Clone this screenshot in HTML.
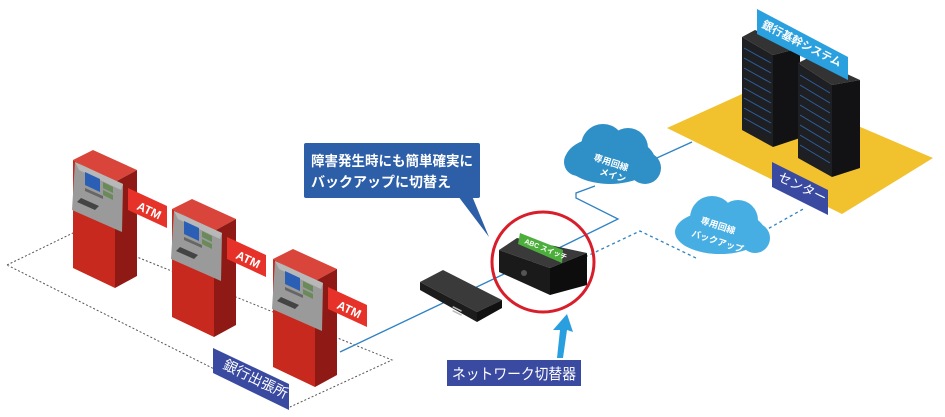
<!DOCTYPE html>
<html><head><meta charset="utf-8"><style>
html,body{margin:0;padding:0;background:#fff;}
svg{display:block;font-family:"Liberation Sans","Noto Sans CJK JP",sans-serif;}
</style></head><body>
<svg width="945" height="417" viewBox="0 0 945 417" xmlns="http://www.w3.org/2000/svg">
<defs>
<g id="atm">
  <polygon points="0,0 20,-10 64,10 42,22" fill="#d9453a"/>
  <polygon points="0,0 42,22 42,128 0,108" fill="#c8291f"/>
  <polygon points="42,22 64,10 64,116 42,128" fill="#8f1a15"/>
  <polygon points="2,2 50,24 49,72 -1,50" fill="#9a9a9a"/>
  <polygon points="2,2 50,24 48,30 6,10" fill="#b8b8b8"/>
  <polygon points="12,12 27,19 27,32 12,25" fill="#2b5fb5"/>
  <polygon points="30,22 40,27 40,33 30,28" fill="#6a8a5a"/>
  <polygon points="30,30 40,35 40,40 30,35" fill="#6a8a5a"/>
  <polygon points="8,38 26,46 22,50 4,42" fill="#444"/>
  <polygon points="12,28 30,36 30,39 12,31" fill="#666"/>
  <polygon points="55,28 94,46 94,68 55,50" fill="#e63228"/>
  <text x="0" y="0" transform="translate(63,49) rotate(25)" fill="#fff" font-size="12" font-weight="bold">ATM</text>
</g>
</defs>

<polyline points="7,265 75,232 392,360 290,407 7,265" fill="none" stroke="#555" stroke-width="1" stroke-dasharray="2,2"/>

<polygon points="667,128 762,85 933,158 842,214" fill="#f2c12e"/>

<g fill="none" stroke="#2f82c4" stroke-width="1.3">
  <polyline points="340,352 565,245"/>
  <polyline points="565,245 618,219 576,198 576,193 595,186"/>
  <polyline points="648,162 692,142"/>
</g>
<g fill="none" stroke="#2f82c4" stroke-width="1.3" stroke-dasharray="3,3">
  <polyline points="585,257 640,231 698,259"/>
  <polyline points="748,240 805,208"/>
</g>

<use href="#atm" transform="translate(73,160)"/>
<use href="#atm" transform="translate(172,209)"/>
<use href="#atm" transform="translate(273,259)"/>

<polygon points="213,348 289,384 289,410 213,373" fill="#3a4aa0"/>
<text transform="translate(222,368) rotate(26)" fill="#fff" font-size="14">銀行出張所</text>

<polygon points="420,282 443,270 502,300 477,312" fill="#3a3a3a"/>
<polygon points="420,282 477,312 477,322 420,290" fill="#1c1c1c"/>
<polygon points="477,312 502,300 502,308 477,322" fill="#111"/>
<g fill="#bbb"><rect x="453" y="306" width="10" height="1.5" transform="rotate(27 453 306)"/><rect x="453" y="310" width="10" height="1.5" transform="rotate(27 453 310)"/></g>

<polygon points="499,250 517,238 587,253 550,268" fill="#3a3a3a"/>
<polygon points="499,250 550,268 550,295 499,272" fill="#1a1a1a"/>
<polygon points="550,268 587,253 587,285 550,295" fill="#0d0d0d"/>
<circle cx="524" cy="273" r="3" fill="#555"/>
<polygon points="520,233 563,250 562,263 518,244" fill="#4caf3c"/>
<text transform="translate(524,243) rotate(22)" fill="#fff" font-size="7" font-weight="bold">ABC スイッチ</text>

<ellipse cx="543" cy="262" rx="51" ry="50" fill="none" stroke="#d81e2a" stroke-width="3"/>

<polygon points="458,196 472,196 489,237" fill="#2d5ea8"/>
<rect x="304" y="143" width="176" height="55" rx="2" fill="#2d5ea8"/>
<text x="311" y="166" fill="#fff" font-size="14" font-weight="bold" textLength="162" lengthAdjust="spacingAndGlyphs">障害発生時にも簡単確実に</text>
<text x="311" y="187" fill="#fff" font-size="14" font-weight="bold">バックアップに切替え</text>

<polygon points="557,358 563,358 567,330 573,332 567,314 553,330 560,330" fill="#2a9fe0"/>

<rect x="447" y="360" width="134" height="26" fill="#3a4aa0"/>
<text x="452" y="379" fill="#fff" font-size="15" textLength="124" lengthAdjust="spacingAndGlyphs">ネットワーク切替器</text>

<g fill="#2f8fc7">
  <ellipse cx="610" cy="160" rx="45" ry="24"/>
  <circle cx="603" cy="146" r="22"/>
  <circle cx="628" cy="148" r="20"/>
  <circle cx="645" cy="168" r="16"/>
  <circle cx="578" cy="162" r="14"/>
</g>
<text transform="translate(593,160) rotate(18)" fill="#fff" font-size="9" font-weight="bold">専用回線</text>
<text transform="translate(599,174) rotate(18)" fill="#fff" font-size="9" font-weight="bold">メイン</text>

<g fill="#47aee3">
  <ellipse cx="720" cy="232" rx="45" ry="22"/>
  <circle cx="712" cy="218" r="22"/>
  <circle cx="738" cy="220" r="20"/>
  <circle cx="755" cy="238" r="15"/>
  <circle cx="690" cy="232" r="13"/>
</g>
<text transform="translate(700,223) rotate(18)" fill="#fff" font-size="9" font-weight="bold">専用回線</text>
<text transform="translate(691,236) rotate(18)" fill="#fff" font-size="9" font-weight="bold">バックアップ</text>

<polygon points="742,37 755,30 800,48 773,55" fill="#333"/>
<polygon points="742,37 773,55 773,147 742,130" fill="#1e1f22"/>
<polygon points="773,55 800,48 800,138 773,147" fill="#121214"/>
<polygon points="798,63 810,57 860,80 832,85" fill="#333"/>
<polygon points="798,63 832,85 832,177 798,158" fill="#1e1f22"/>
<polygon points="832,85 860,80 860,168 832,177" fill="#121214"/>
<g stroke="#2f5f9f" stroke-width="1">
  <line x1="744" y1="48" x2="771" y2="63"/><line x1="744" y1="58" x2="771" y2="73"/><line x1="744" y1="68" x2="771" y2="83"/><line x1="744" y1="78" x2="771" y2="93"/><line x1="744" y1="88" x2="771" y2="103"/><line x1="744" y1="98" x2="771" y2="113"/><line x1="744" y1="108" x2="771" y2="123"/><line x1="744" y1="118" x2="771" y2="133"/>
  <line x1="800" y1="75" x2="830" y2="93"/><line x1="800" y1="85" x2="830" y2="103"/><line x1="800" y1="95" x2="830" y2="113"/><line x1="800" y1="105" x2="830" y2="123"/><line x1="800" y1="115" x2="830" y2="133"/><line x1="800" y1="125" x2="830" y2="143"/><line x1="800" y1="135" x2="830" y2="153"/><line x1="800" y1="145" x2="830" y2="163"/>
</g>

<polygon points="757,9 848,57 848,80 757,34" fill="#2aa0de"/>
<text transform="translate(761,27) rotate(27)" fill="#fff" font-size="11" font-weight="bold">銀行基幹システム</text>

<polygon points="772,162 828,190 828,215 772,187" fill="#3a4aa0"/>
<text transform="translate(777,180) rotate(26)" fill="#fff" font-size="13">センター</text>
</svg>
</body></html>
